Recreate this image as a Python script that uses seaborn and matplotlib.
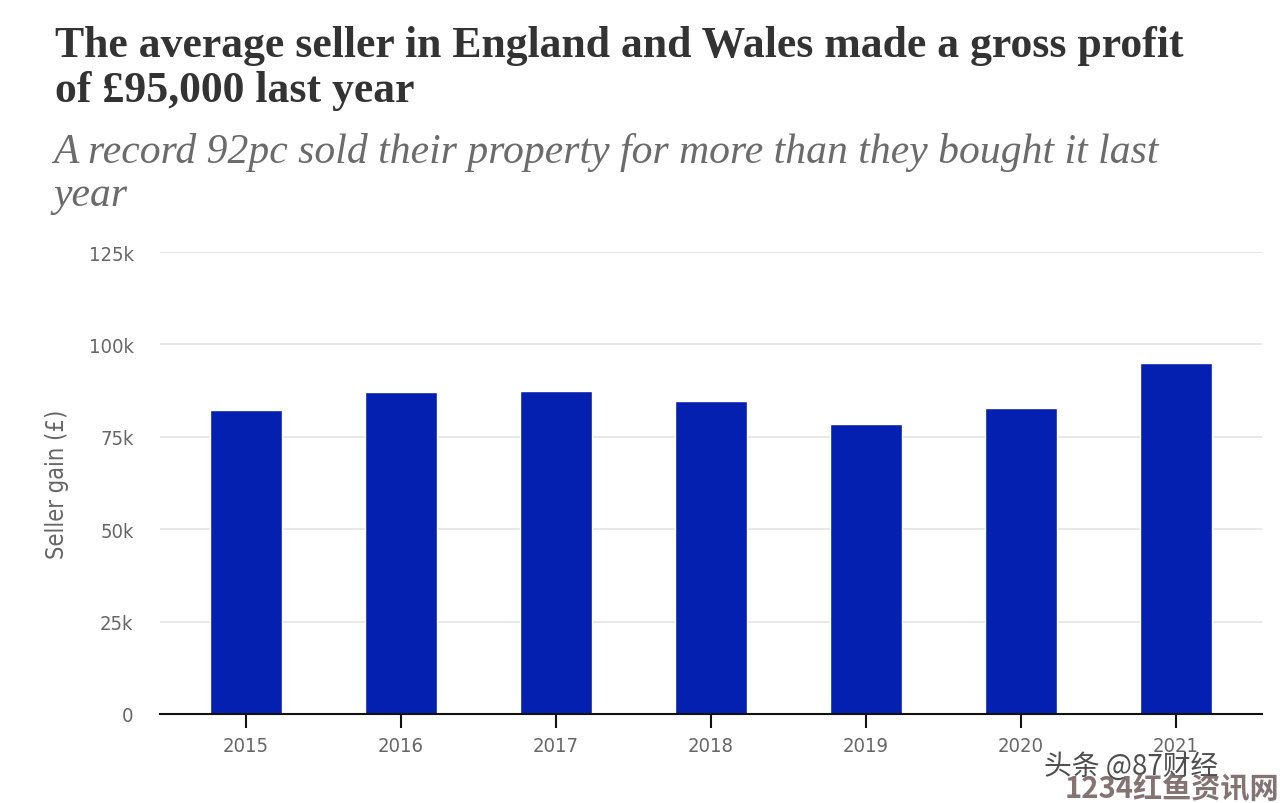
import matplotlib.pyplot as plt
import seaborn as sns
import pandas as pd
from matplotlib.ticker import FuncFormatter

# Values (seller gain, £)
years = ["2015", "2016", "2017", "2018", "2019", "2020", "2021"]
gain = [82300, 87000, 87500, 84800, 78500, 82800, 94900]
yticks = [0, 25000, 50000, 75000, 100000, 125000]

df = pd.DataFrame({"Year": years, "Gain": gain})

sns.set_theme(style="white")
plt.rcParams["font.family"] = ["DejaVu Sans"]
plt.rcParams["font.stretch"] = "condensed"

fig = plt.figure(figsize=(12.8, 8.04), dpi=100)
ax = fig.add_axes([0.125, 0.1107, 0.861, 0.5746])

sns.barplot(data=df, x="Year", y="Gain", color="#0420b0", saturation=1,
            width=0.47, ax=ax, zorder=3)

ax.set_xlim(-0.555, 6.555)
ax.set_ylim(0, 125000)
ax.set_yticks(yticks)
ax.yaxis.set_major_formatter(FuncFormatter(lambda v, p: "0" if v == 0 else f"{int(v/1000)}k"))
ax.grid(axis="y", color="#e4e4e4", linewidth=1.2, zorder=0)

for s in ["left", "right", "top"]:
    ax.spines[s].set_visible(False)
ax.spines["bottom"].set_color("#111111")
ax.spines["bottom"].set_linewidth(1.5)
ax.spines["bottom"].set_zorder(4)

ax.tick_params(axis="x", length=10, width=1.5, color="#111111", labelsize=14.5,
               labelcolor="#666666", pad=6, bottom=True)
ax.tick_params(axis="y", length=0, labelsize=14.5, labelcolor="#666666", pad=19)
ax.set_xlabel("")
ax.set_ylabel("Seller gain (£)", fontsize=17, color="#666666", labelpad=14)

fig.text(0.043, 0.968, "The average seller in England and Wales made a gross profit\nof £95,000 last year",
         family="Liberation Serif", weight="bold", fontsize=31.5, color="#333333",
         va="top", linespacing=1.17)
fig.text(0.042, 0.835, "A record 92pc sold their property for more than they bought it last\nyear",
         family="Liberation Serif", style="italic", fontsize=30, color="#6b6b6b",
         va="top", linespacing=1.18)

# watermark in the bottom right corner
fig.text(0.816, 0.036, "头条 @87财经", family=["Noto Sans CJK SC", "DejaVu Sans"],
         fontsize=20, color="#222222", alpha=0.8)
fig.text(0.832, 0.008, "1234红鱼资讯网", family=["Noto Sans CJK SC", "DejaVu Sans"],
         fontsize=21, weight="bold", color="#6e5a5a", alpha=0.85)

fig.savefig("out.png", dpi=100)
